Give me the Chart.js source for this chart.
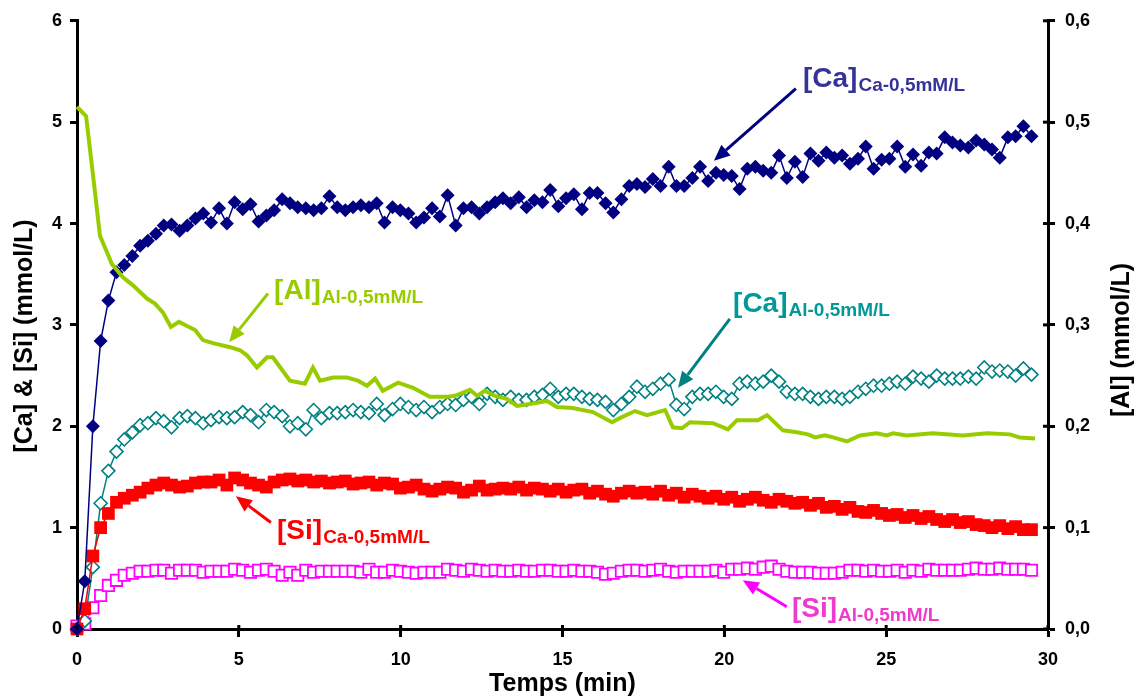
<!DOCTYPE html>
<html><head><meta charset="utf-8">
<script src="https://cdn.jsdelivr.net/npm/chart.js@4/dist/chart.umd.min.js"></script>
<style>html,body{margin:0;padding:0;background:#fff}#wrap{width:1141px;height:700px}</style>
</head><body><div id="wrap"><canvas id="c" width="1141" height="700"></canvas></div>
<script>
// Sampling times (min) shared by the marker series
const times = [0,0.24,0.49,0.73,0.97,1.22,1.46,1.71,1.95,2.19,2.44,2.68,2.92,3.17,3.41,3.66,3.90,4.14,4.39,4.63,
4.87,5.12,5.36,5.61,5.85,6.09,6.34,6.58,6.82,7.07,7.31,7.55,7.80,8.04,8.29,8.53,8.77,9.02,9.26,9.50,
9.75,9.99,10.24,10.48,10.72,10.97,11.21,11.45,11.70,11.94,12.19,12.43,12.67,12.92,13.16,13.40,13.65,13.89,14.13,14.38,
14.62,14.87,15.11,15.35,15.60,15.84,16.08,16.33,16.57,16.82,17.06,17.30,17.55,17.79,18.03,18.28,18.52,18.76,19.01,19.25,
19.50,19.74,19.98,20.23,20.47,20.71,20.96,21.20,21.45,21.69,21.93,22.18,22.42,22.66,22.91,23.15,23.40,23.64,23.88,24.13,
24.37,24.61,24.86,25.10,25.34,25.59,25.83,26.08,26.32,26.56,26.81,27.05,27.29,27.54,27.78,28.03,28.27,28.51,28.76,29.00,
29.24,29.49];
// [Ca] Ca-0,5mM/L (mmol/L)
const caCa = [0.00,0.47,2.00,2.84,3.24,3.52,3.59,3.68,3.78,3.83,3.90,3.98,3.99,3.93,3.98,4.05,4.10,4.01,4.15,4.00,
4.21,4.14,4.19,4.02,4.08,4.13,4.24,4.20,4.16,4.15,4.13,4.15,4.27,4.16,4.13,4.16,4.18,4.16,4.20,4.01,
4.16,4.13,4.10,4.01,4.06,4.15,4.07,4.28,3.98,4.15,4.16,4.10,4.16,4.21,4.25,4.20,4.26,4.16,4.23,4.21,
4.33,4.17,4.25,4.29,4.14,4.30,4.30,4.20,4.11,4.24,4.37,4.39,4.36,4.44,4.37,4.56,4.37,4.37,4.45,4.56,
4.42,4.50,4.48,4.47,4.34,4.54,4.56,4.52,4.50,4.67,4.45,4.61,4.46,4.69,4.62,4.70,4.65,4.67,4.59,4.64,
4.76,4.54,4.63,4.64,4.76,4.56,4.68,4.57,4.70,4.69,4.85,4.80,4.77,4.75,4.82,4.78,4.73,4.65,4.85,4.86,
4.96,4.86];
// [Ca] Al-0,5mM/L (mmol/L)
const caAl = [0.00,0.08,0.61,1.24,1.56,1.75,1.87,1.94,2.01,2.03,2.08,2.05,1.99,2.08,2.10,2.08,2.03,2.06,2.09,2.08,
2.09,2.14,2.11,2.04,2.16,2.14,2.10,2.00,2.03,1.97,2.16,2.08,2.13,2.13,2.14,2.16,2.14,2.13,2.22,2.11,
2.17,2.22,2.19,2.16,2.19,2.14,2.19,2.22,2.21,2.26,2.29,2.22,2.32,2.29,2.26,2.29,2.26,2.26,2.29,2.31,
2.37,2.29,2.32,2.32,2.29,2.27,2.26,2.24,2.16,2.22,2.29,2.39,2.34,2.37,2.42,2.46,2.21,2.17,2.29,2.32,
2.32,2.34,2.29,2.27,2.42,2.44,2.42,2.44,2.50,2.44,2.34,2.32,2.32,2.29,2.27,2.29,2.29,2.27,2.29,2.34,
2.37,2.40,2.40,2.42,2.44,2.42,2.49,2.47,2.44,2.50,2.47,2.47,2.47,2.49,2.47,2.58,2.54,2.55,2.54,2.50,
2.57,2.51];
// [Si] Ca-0,5mM/L (mmol/L)
const siCa = [0.00,0.20,0.72,1.00,1.14,1.25,1.29,1.32,1.35,1.39,1.42,1.44,1.42,1.40,1.41,1.44,1.45,1.45,1.47,1.42,
1.49,1.47,1.44,1.42,1.40,1.45,1.47,1.48,1.46,1.47,1.45,1.46,1.44,1.45,1.46,1.43,1.44,1.45,1.42,1.44,
1.43,1.39,1.40,1.42,1.38,1.36,1.38,1.40,1.39,1.35,1.37,1.41,1.37,1.38,1.39,1.38,1.40,1.37,1.39,1.38,
1.36,1.38,1.35,1.37,1.38,1.34,1.36,1.33,1.31,1.34,1.36,1.34,1.35,1.33,1.36,1.32,1.34,1.30,1.33,1.31,
1.29,1.31,1.28,1.30,1.26,1.28,1.30,1.27,1.25,1.28,1.26,1.24,1.25,1.22,1.24,1.20,1.21,1.18,1.20,1.16,
1.15,1.17,1.14,1.12,1.13,1.10,1.12,1.09,1.11,1.08,1.06,1.08,1.05,1.06,1.03,1.02,1.00,1.02,0.99,1.01,
0.98,0.98];
// [Si] Al-0,5mM/L (mmol/L)
const siAl = [0.03,0.05,0.21,0.33,0.43,0.48,0.53,0.55,0.57,0.57,0.58,0.58,0.55,0.58,0.58,0.58,0.56,0.57,0.57,0.57,
0.59,0.58,0.56,0.58,0.59,0.57,0.53,0.56,0.53,0.58,0.56,0.57,0.57,0.57,0.57,0.57,0.56,0.59,0.56,0.56,
0.58,0.57,0.56,0.55,0.56,0.56,0.56,0.59,0.58,0.57,0.59,0.58,0.57,0.58,0.57,0.57,0.58,0.57,0.57,0.58,
0.58,0.57,0.57,0.58,0.57,0.57,0.56,0.54,0.55,0.57,0.58,0.58,0.57,0.58,0.59,0.57,0.56,0.57,0.57,0.57,
0.57,0.58,0.56,0.59,0.59,0.60,0.59,0.61,0.62,0.59,0.57,0.56,0.56,0.56,0.55,0.55,0.55,0.56,0.58,0.58,
0.57,0.58,0.57,0.57,0.58,0.56,0.58,0.57,0.59,0.58,0.58,0.58,0.58,0.59,0.60,0.59,0.59,0.60,0.59,0.59,
0.59,0.58];
// [Al] Al-0,5mM/L (mmol/L, right axis)
const alTimes = [0,0.28,0.49,0.71,1.08,1.42,1.73,2.16,2.41,2.66,2.90,3.15,3.40,3.65,3.89,4.20,4.73,5.04,5.25,5.56,
5.87,6.05,6.58,7.04,7.29,7.51,7.91,8.34,8.68,8.96,9.21,9.45,9.92,10.38,10.90,11.43,11.68,12.14,12.36,12.60,
12.91,13.28,13.59,13.99,14.52,14.83,15.32,15.94,16.53,16.77,17.24,17.61,18.17,18.41,18.69,18.94,19.65,20.11,20.39,21.04,
21.32,21.81,22.24,22.58,22.80,23.11,23.36,23.79,24.19,24.71,25.02,25.21,25.64,26.44,27.37,28.11,28.82,29.13,29.60];
const alAl = [0.515,0.506,0.449,0.388,0.360,0.347,0.339,0.326,0.321,0.312,0.298,0.303,0.299,0.295,0.285,0.282,0.278,0.275,0.270,0.258,
0.268,0.268,0.245,0.242,0.258,0.245,0.248,0.248,0.245,0.240,0.247,0.235,0.243,0.238,0.229,0.229,0.230,0.236,0.230,0.235,
0.230,0.227,0.220,0.222,0.225,0.219,0.218,0.214,0.204,0.208,0.215,0.211,0.216,0.199,0.198,0.204,0.203,0.197,0.206,0.206,
0.211,0.196,0.194,0.192,0.189,0.191,0.189,0.185,0.191,0.193,0.191,0.193,0.191,0.193,0.191,0.193,0.192,0.189,0.188];

const xTickValues = [0,5,10,15,20,25,30];
const leftTickValues = [0,1,2,3,4,5,6];
const rightTickValues = [0,0.1,0.2,0.3,0.4,0.5,0.6];

const xTitle = 'Temps (min)';
const leftTitle = '[Ca] & [Si] (mmol/L)';
const rightTitle = '[Al] (mmol/L)';

// Callouts: label anchor, arrow start and arrow tip, in (min, left-axis mmol/L) units
const calloutMain = ['[Ca]', '[Al]', '[Ca]', '[Si]', '[Si]'];
const calloutSub = ['Ca-0,5mM/L', 'Al-0,5mM/L', 'Al-0,5mM/L', 'Ca-0,5mM/L', 'Al-0,5mM/L'];
const calloutAt = [[22.43,5.35],[6.09,3.26],[20.27,3.13],[6.18,0.89],[22.09,0.12]];
const calloutFrom = [[22.21,5.33],[5.90,3.31],[20.17,3.06],[5.99,1.05],[21.93,0.22]];
const calloutTo = [[19.68,4.62],[4.70,2.83],[18.57,2.38],[4.91,1.31],[20.57,0.48]];
const calloutTextColor = ['#333399','#99CC00','#009999','#FF0000','#EE3ACD'];
const calloutArrowColor = ['#000080','#99CC00','#008080','#FF0000','#FF00FF'];

const FONT = '"Liberation Sans", Arial, Helvetica, sans-serif';
const pts = (xs, ys) => xs.map((t, i) => ({x: t, y: ys[i]}));

const overlay = {
  id: 'overlay',
  afterDraw(chart) {
    const ctx = chart.ctx;
    const x = chart.scales.x, y = chart.scales.y, yr = chart.scales.yAl;
    const area = chart.chartArea;
    ctx.save();
    // inner halves of ticks (bottom and right axes cross the axis line)
    ctx.strokeStyle = '#000'; ctx.lineWidth = 3;
    xTickValues.forEach(v => {
      const px = x.getPixelForValue(v);
      ctx.beginPath(); ctx.moveTo(px, area.bottom); ctx.lineTo(px, area.bottom - 4); ctx.stroke();
    });
    rightTickValues.forEach(v => {
      const py = yr.getPixelForValue(v);
      ctx.beginPath(); ctx.moveTo(area.right, py); ctx.lineTo(area.right - 5, py); ctx.stroke();
    });
    // axis titles
    ctx.fillStyle = '#000';
    ctx.font = 'bold 25px ' + FONT;
    ctx.textAlign = 'center'; ctx.textBaseline = 'alphabetic';
    ctx.fillText(xTitle, (area.left + area.right) / 2, 691);
    ctx.textBaseline = 'middle';
    ctx.save(); ctx.translate(25, 336); ctx.rotate(-Math.PI / 2); ctx.fillText(leftTitle, 0, 0); ctx.restore();
    ctx.save(); ctx.translate(1122, 340); ctx.rotate(-Math.PI / 2); ctx.fillText(rightTitle, 0, 0); ctx.restore();
    // callouts
    for (let k = 0; k < calloutMain.length; k++) {
      const fx = x.getPixelForValue(calloutFrom[k][0]), fy = y.getPixelForValue(calloutFrom[k][1]);
      const tx = x.getPixelForValue(calloutTo[k][0]), ty = y.getPixelForValue(calloutTo[k][1]);
      const ang = Math.atan2(ty - fy, tx - fx);
      const hl = 16, hw = 7;
      const bx = tx - hl * Math.cos(ang), by = ty - hl * Math.sin(ang);
      ctx.strokeStyle = calloutArrowColor[k]; ctx.fillStyle = calloutArrowColor[k];
      ctx.lineWidth = 3;
      ctx.beginPath(); ctx.moveTo(fx, fy); ctx.lineTo(bx, by); ctx.stroke();
      ctx.beginPath(); ctx.moveTo(tx, ty);
      ctx.lineTo(bx + hw * Math.sin(ang), by - hw * Math.cos(ang));
      ctx.lineTo(bx - hw * Math.sin(ang), by + hw * Math.cos(ang));
      ctx.closePath(); ctx.fill();
      const lx = x.getPixelForValue(calloutAt[k][0]), ly = y.getPixelForValue(calloutAt[k][1]);
      ctx.fillStyle = calloutTextColor[k];
      ctx.textAlign = 'left'; ctx.textBaseline = 'alphabetic';
      ctx.font = 'bold 28px ' + FONT;
      ctx.fillText(calloutMain[k], lx, ly);
      const w = ctx.measureText(calloutMain[k]).width;
      ctx.font = 'bold 19px ' + FONT;
      ctx.fillText(calloutSub[k], lx + w + 1, ly + 4);
    }
    ctx.restore();
  }
};

new Chart(document.getElementById('c'), {
  type: 'scatter',
  data: {
    datasets: [
      { label: '[Al] Al-0,5mM/L', data: pts(alTimes, alAl), yAxisID: 'yAl', showLine: true,
        borderColor: '#99CC00', borderWidth: 4, pointRadius: 0, tension: 0, order: 0, clip: false },
      { label: '[Ca] Ca-0,5mM/L', data: pts(times, caCa), yAxisID: 'y', showLine: true,
        borderColor: '#000080', borderWidth: 1.5, pointStyle: 'rectRot', pointRadius: 7,
        pointBackgroundColor: '#000080', pointBorderColor: '#000080', pointBorderWidth: 0, order: 1, clip: false },
      { label: '[Ca] Al-0,5mM/L', data: pts(times, caAl), yAxisID: 'y', showLine: true,
        borderColor: '#008080', borderWidth: 1.5, pointStyle: 'rectRot', pointRadius: 6.5,
        pointBackgroundColor: '#ffffff', pointBorderColor: '#008080', pointBorderWidth: 1.6, order: 3, clip: false },
      { label: '[Si] Ca-0,5mM/L', data: pts(times, siCa), yAxisID: 'y', showLine: true,
        borderColor: '#FF0000', borderWidth: 1.5, pointStyle: 'rect', pointRadius: 9,
        pointBackgroundColor: '#FF0000', pointBorderColor: '#FF0000', pointBorderWidth: 0, order: 2, clip: false },
      { label: '[Si] Al-0,5mM/L', data: pts(times, siAl), yAxisID: 'y', showLine: true,
        borderColor: '#FF00FF', borderWidth: 1, pointStyle: 'rect', pointRadius: 8,
        pointBackgroundColor: '#ffffff', pointBorderColor: '#FF00FF', pointBorderWidth: 1.8, order: 4, clip: false }
    ]
  },
  options: {
    responsive: false, animation: false, devicePixelRatio: 1,
    layout: { padding: { top: 20, left: 0, right: 0, bottom: 0 } },
    plugins: { legend: { display: false }, tooltip: { enabled: false } },
    scales: {
      x: {
        type: 'linear', position: 'bottom', min: 0, max: 30,
        afterBuildTicks: s => { s.ticks = xTickValues.map(v => ({value: v})); },
        afterFit: s => { s.height = 71; },
        ticks: { color: '#000', font: { family: FONT, size: 18, weight: 'bold' }, padding: 12, maxRotation: 0 },
        grid: { drawOnChartArea: false, tickLength: 8, tickWidth: 3, tickColor: '#000' },
        border: { color: '#000', width: 3 }
      },
      y: {
        type: 'linear', position: 'left', min: 0, max: 6,
        afterBuildTicks: s => { s.ticks = leftTickValues.map(v => ({value: v})); },
        afterFit: s => { s.width = 77; },
        ticks: { color: '#000', font: { family: FONT, size: 18, weight: 'bold' }, padding: 8 },
        grid: { drawOnChartArea: false, tickLength: 7, tickWidth: 3, tickColor: '#000' },
        border: { color: '#000', width: 3 }
      },
      yAl: {
        type: 'linear', position: 'right', min: 0, max: 0.6,
        afterBuildTicks: s => { s.ticks = rightTickValues.map(v => ({value: v})); },
        afterFit: s => { s.width = 93; },
        ticks: { color: '#000', font: { family: FONT, size: 18, weight: 'bold' }, padding: 10,
          callback: v => Number(v).toFixed(1).replace('.', ',') },
        grid: { drawOnChartArea: false, tickLength: 7, tickWidth: 3, tickColor: '#000' },
        border: { color: '#000', width: 3 }
      }
    }
  },
  plugins: [overlay]
});
</script>
</body></html>
